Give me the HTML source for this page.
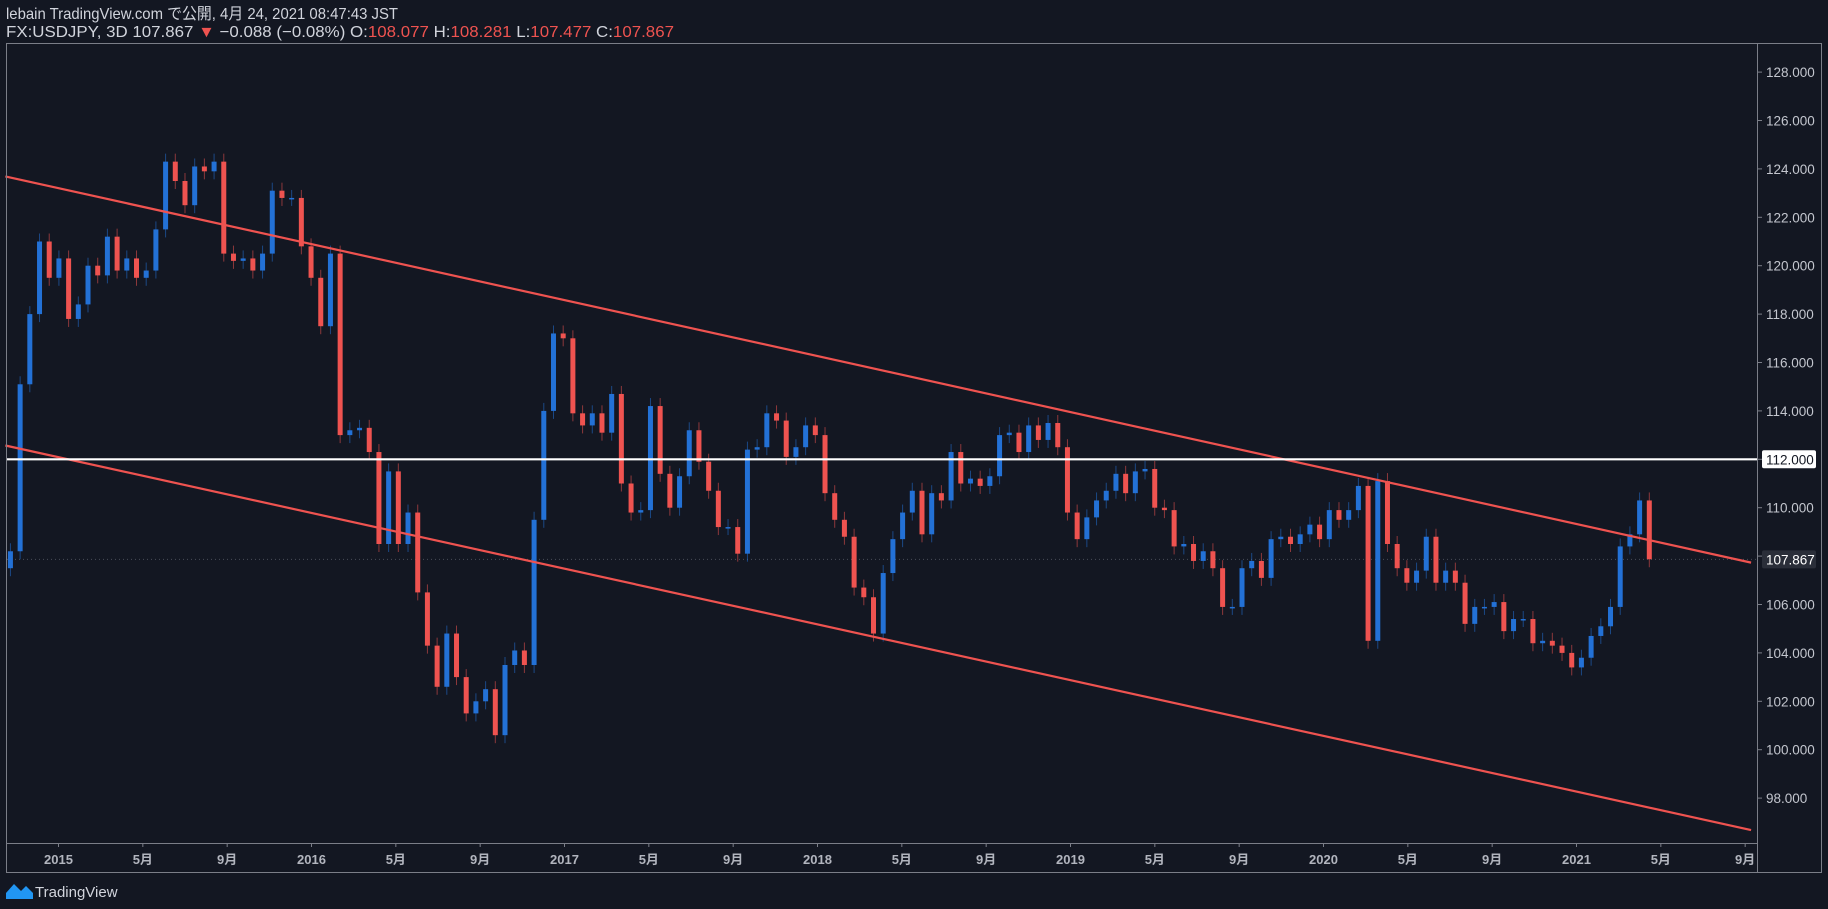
<!DOCTYPE html>
<html><head><meta charset="utf-8"><style>
html,body{margin:0;padding:0;background:#131722;}
svg{display:block;font-family:"Liberation Sans","Noto Sans CJK JP",sans-serif;}
</style></head><body>
<svg id="chart" width="1828" height="909" viewBox="0 0 1828 909" xmlns="http://www.w3.org/2000/svg">
<rect x="0" y="0" width="1828" height="909" fill="#131722"/>
<text x="6" y="19" font-size="16" fill="#d1d4dc" textLength="392" lengthAdjust="spacingAndGlyphs">lebain TradingView.com で公開, 4月 24, 2021 08:47:43 JST</text>
<text x="6" y="37" font-size="16" fill="#d1d4dc" textLength="668" lengthAdjust="spacingAndGlyphs">FX:USDJPY, 3D 107.867 <tspan fill="#ef5350">▼</tspan> −0.088 (−0.08%) O:<tspan fill="#ef5350">108.077</tspan> H:<tspan fill="#ef5350">108.281</tspan> L:<tspan fill="#ef5350">107.477</tspan> C:<tspan fill="#ef5350">107.867</tspan></text>
<g id="plot"></g>
<rect x="6.5" y="43.5" width="1815" height="829" fill="none" stroke="#7b7e88" stroke-width="1"/>
<line x1="1757.5" y1="43" x2="1757.5" y2="872" stroke="#7b7e88"/>
<line x1="6" y1="843.5" x2="1757.5" y2="843.5" stroke="#7b7e88"/>
<g id="yaxis"></g>
<g id="xaxis"></g>
<g>
<path d="M6 899 L6 893 L14 884 L21 891 L26 886 L33 893 L33 899 Z" fill="#2196f3"/>
<text x="35" y="897" font-size="15" fill="#d1d4dc">TradingView</text>
</g>
</svg>
<script>
// Data (biweekly closes), starting 2014-10-24
const startYear = 2014.81;
const stepYears = 14/365.25;
const closes = [108.2,115.1,118.0,121.0,119.5,120.3,117.8,118.4,120.0,119.6,121.2,119.8,120.3,119.5,119.8,121.5,124.3,123.5,122.5,124.1,123.9,124.3,120.5,120.2,120.3,119.8,120.5,123.1,122.8,122.8,120.8,119.5,117.5,120.5,113.0,113.2,113.3,112.3,108.5,111.5,108.5,109.8,106.5,104.3,102.6,104.8,103.0,101.5,102.0,102.5,100.6,103.5,104.1,103.5,109.5,114.0,117.2,
117.0,113.9,113.4,113.9,113.1,114.7,111.0,109.8,109.9,114.2,111.4,110.0,111.3,113.2,111.9,110.7,109.2,109.2,108.1,112.4,112.5,113.9,113.6,112.1,112.5,113.4,113.0,110.6,109.5,108.8,106.7,106.3,104.8,107.3,108.7,109.8,110.7,108.9,110.6,110.3,112.3,111.0,111.2,110.9,111.3,113.0,113.1,112.3,113.4,112.8,113.5,112.5,109.8,108.7,109.6,110.3,110.7,111.4,110.6,
111.5,111.6,110.0,109.9,108.4,108.5,107.8,108.2,107.5,105.9,105.9,107.5,107.8,107.1,108.7,108.8,108.5,108.9,109.3,108.7,109.9,109.5,109.9,110.9,104.5,111.1,108.5,107.5,106.9,107.4,108.8,106.9,107.4,106.9,105.2,105.9,105.9,106.1,104.9,105.4,105.4,104.4,104.5,104.3,104.0,103.4,103.8,104.7,105.1,105.9,108.4,108.9,110.3,107.87];
const firstOpen = 107.5;
const yTicks = [98,100,102,104,106,108,110,112,114,116,118,120,122,124,126,128];
const xTickLabels = ["2015","5月","9月","2016","5月","9月","2017","5月","9月","2018","5月","9月","2019","5月","9月","2020","5月","9月","2021","5月","9月"];
const xTickYears = [2015,2015+4/12,2015+8/12,2016,2016+4/12,2016+8/12,2017,2017+4/12,2017+8/12,2018,2018+4/12,2018+8/12,2019,2019+4/12,2019+8/12,2020,2020+4/12,2020+8/12,2021,2021+4/12,2021+8/12];
const upperTrend = [[2014.79,123.69],[2021.69,107.73]];
const lowerTrend = [[2014.79,112.57],[2021.69,96.68]];
const hLevel = 112;
const lastPrice = 107.867;

const NS="http://www.w3.org/2000/svg";
function yS(p){return 459.3+(112-p)*24.2;}
function xS(t){return 58.5+(t-2015)*253;}
function mk(tag,attrs,parent){const e=document.createElementNS(NS,tag);for(const k in attrs)e.setAttribute(k,attrs[k]);parent.appendChild(e);return e;}
const plot=document.getElementById('plot');
const yax=document.getElementById('yaxis');
const xax=document.getElementById('xaxis');

const dl=mk('line',{x1:7,x2:1757,y1:yS(lastPrice),y2:yS(lastPrice),stroke:'#4a4e5a','stroke-dasharray':'1 3'},plot);



for(let i=0;i<closes.length;i++){
  const o=i===0?firstOpen:closes[i-1];
  const c=closes[i];
  const t=startYear+i*stepYears;
  const x=xS(t);
  const up=c>=o;
  const col=up?'#2371d6':'#ef5350';
  const top=yS(Math.max(o,c)), bot=yS(Math.min(o,c));
  const w=mk('line',{x1:x,x2:x,y1:top-8,y2:bot+8,stroke:col,'stroke-width':1,opacity:0.55},plot);
  
  
  const b=mk('rect',{x:x-2.5,y:top,width:5,height:Math.max(1.5,bot-top),fill:col},plot);
  
  
}

[[upperTrend,'upper-trendline'],[lowerTrend,'lower-trendline']].forEach(([d,n])=>{
  const l=mk('line',{x1:xS(d[0][0]),y1:yS(d[0][1]),x2:xS(d[1][0]),y2:yS(d[1][1]),stroke:'#ef5350','stroke-width':2.2},plot);
  
  
});
const hl=mk('line',{x1:7,x2:1757,y1:yS(hLevel),y2:yS(hLevel),stroke:'#ffffff','stroke-width':2.2},plot);



yTicks.forEach(v=>{
  const y=yS(v);
  const tk=mk('line',{x1:1757,x2:1762,y1:y,y2:y,stroke:'#7b7e88'},yax);
  
  
  if(v===hLevel) return;
  const tx=mk('text',{x:1766,y:y+5,'font-size':13.5,fill:'#c3c6ce'},yax);
  tx.textContent=v.toFixed(3);
  
  
});
function priceBox(v,bg,fg,name){
  const y=yS(v);
  const r=mk('rect',{x:1762,y:y-9,width:54,height:18,rx:2,fill:bg},yax);
  
  
  const tx=mk('text',{x:1766,y:y+5,'font-size':13.5,fill:fg},yax);
  tx.textContent=v.toFixed(3);
  
  
}
priceBox(hLevel,'#ffffff','#131722','level-112');
priceBox(lastPrice,'#2a2e39','#ffffff','last-price');

xTickLabels.forEach((lab,i)=>{
  const x=xS(xTickYears[i]);
  const tk=mk('line',{x1:x,x2:x,y1:843,y2:847,stroke:'#7b7e88'},xax);
  
  
  const tx=mk('text',{x:x,y:864,'font-size':13,'font-weight':'bold',fill:'#b2b5be','text-anchor':'middle'},xax);
  tx.textContent=lab;
  
  
});
</script>
</body></html>
